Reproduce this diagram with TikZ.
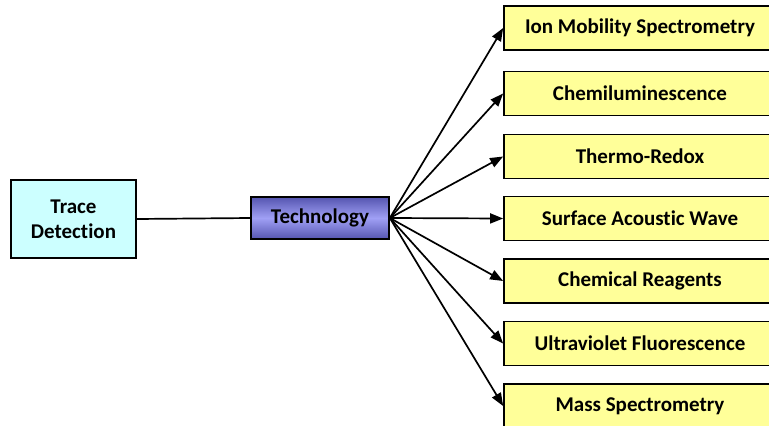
\documentclass[tikz,border=0pt]{standalone}
\usepackage{fontspec}
\setmainfont{Carlito}[Ligatures=NoCommon]
\usetikzlibrary{arrows.meta}
\definecolor{rootfill}{HTML}{CCFFFF}
\definecolor{leaffill}{HTML}{FFFF99}
\definecolor{techedge}{HTML}{5555B0}
\definecolor{techmid}{HTML}{A0A0F5}
\tikzset{
  box/.style={draw=black, line width=1.7pt, inner sep=0pt, align=center,
    font=\fontsize{21}{25}\selectfont\bfseries},
  rootbox/.style={box, fill=rootfill, minimum width=125pt, minimum height=78pt},
  techbox/.style={box, minimum width=138pt, minimum height=42pt,
    top color=techedge, bottom color=techedge, middle color=techmid},
  leaf/.style={box, fill=leaffill, minimum width=272pt, minimum height=44pt},
  link/.style={line width=1.7pt},
  branch/.style={link, -{Triangle[length=13pt,width=10pt]}}
}
\begin{document}
\begin{tikzpicture}[x=1pt,y=-1pt]
\useasboundingbox (0,0) rectangle (769,426);
\node[rootbox] (trace) at (73.5,219) {Trace\\Detection};
\node[techbox] (tech) at (320,218) {Technology};
\node[leaf] (ims) at (640,28)    {Ion Mobility Spectrometry};
\node[leaf] (chem) at (640,93.5) {Chemiluminescence};
\node[leaf] (thermo) at (640,156.5) {Thermo-Redox};
\node[leaf] (saw) at (640,218.5) {Surface Acoustic Wave};
\node[leaf] (reag) at (640,281)  {Chemical Reagents};
\node[leaf] (uv) at (640,343.5)  {Ultraviolet Fluorescence};
\node[leaf] (ms) at (640,406)    {Mass Spectrometry};
\draw[link] (trace.east) -- (tech.west);
\foreach \t in {ims,chem,thermo,saw,reag,uv,ms}
  \draw[branch] (tech.east) -- (\t.west);
\end{tikzpicture}
\end{document}
